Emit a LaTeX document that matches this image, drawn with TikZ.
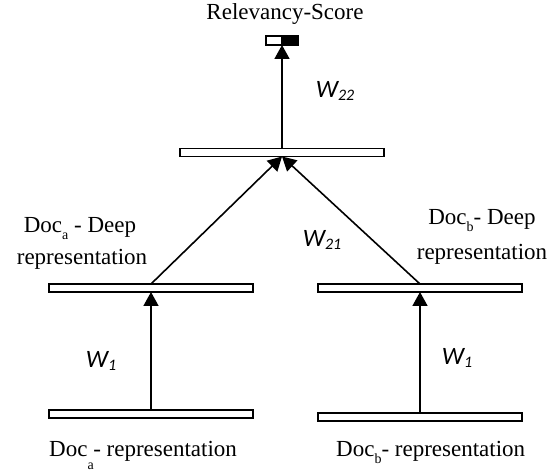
\documentclass[tikz,border=0pt]{standalone}
\usepackage{fontspec}
\setmainfont{Liberation Serif}
\newfontfamily\wfont{Carlito}
\usetikzlibrary{arrows.meta}
\newcommand{\wsub}[1]{\raisebox{-3pt}{\fontsize{16}{16}\selectfont #1}}
\newcommand{\dsub}[2]{\raisebox{-#2}{\fontsize{14}{14}\selectfont #1}}
\begin{document}
\begin{tikzpicture}[x=1pt,y=1pt,
  bar/.style={draw, line width=1.6pt, fill=white, minimum width=204pt, minimum height=8pt, inner sep=0pt, outer sep=0pt},
  conn/.style={line width=1.6pt, -{Triangle[width=15pt,length=14pt]}},
  lbl/.style={font=\fontsize{23}{32}\selectfont, inner sep=0pt, align=center},
  wl/.style={font=\wfont\itshape\fontsize{25}{28}\selectfont, inner sep=0pt},
  scorepart/.style={draw, line width=1.6pt, minimum height=9pt, inner sep=0pt, outer sep=0pt}]
\useasboundingbox (0,0) rectangle (551,471);
% bars
\node[bar] (top) at (282,318.5) {};
\node[bar] (lm) at (151,183) {};
\node[bar] (rm) at (420,183) {};
\node[bar] (lb) at (151,57) {};
\node[bar] (rb) at (420,54) {};
% score box
\node[scorepart, fill=white, minimum width=16pt, anchor=east] (scw) at (282,430.5) {};
\node[scorepart, fill=black, minimum width=16pt, anchor=west] (scb) at (282,430.5) {};
\coordinate (sc) at (282,426);
% connectors
\draw[conn] (top.north -| sc) -- (sc);
\draw[conn] (lm.north) -- (top.south);
\draw[conn] (rm.north) -- (top.south);
\draw[conn] (lb.north) -- (lm.south);
\draw[conn] (rb.north) -- (rm.south);
% texts
\node[lbl, anchor=base] (title) at (285,451) {Relevancy-Score};
\node[lbl, anchor=base] (lml1) at (80,238) {Doc\dsub{a}{7pt}\ - Deep};
\node[lbl, anchor=base] (lml2) at (82,206) {representation};
\node[lbl, anchor=base] (rml1) at (482,246) {Doc\dsub{b}{7pt}- Deep};
\node[lbl, anchor=base] (rml2) at (482,211) {representation};
\node[lbl, anchor=base west] (lbl) at (49,15) {Doc\makebox[0pt][l]{\dsub{a}{13pt}}\ - representation};
\node[lbl, anchor=base west] (rbl) at (336,15) {Doc\dsub{b}{7pt}- representation};
\node[wl] (w22) at (335,380) {W\wsub{22}};
\node[wl] (w21) at (322,231) {W\wsub{21}};
\node[wl] (w1l) at (101,110) {W\wsub{1}};
\node[wl] (w1r) at (457,113) {W\wsub{1}};
\end{tikzpicture}
\end{document}
